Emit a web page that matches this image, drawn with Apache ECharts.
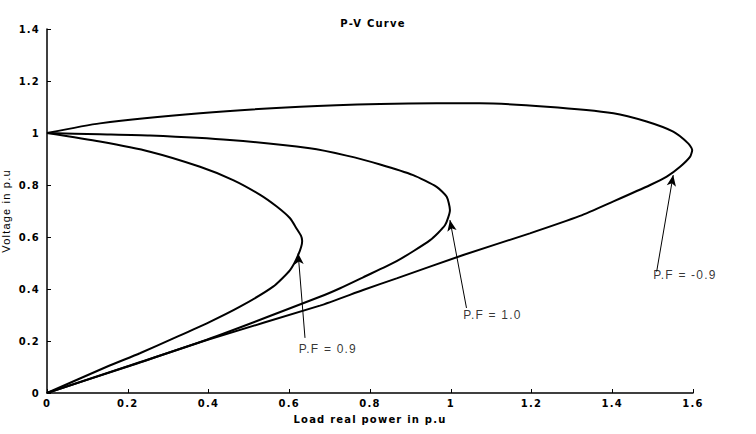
<!DOCTYPE html>
<html>
<head>
<meta charset="utf-8">
<script src="https://cdn.jsdelivr.net/npm/echarts@6/dist/echarts.min.js"></script>
<style>
    html, body { margin: 0; padding: 0; background: #fff; }
    #main { width: 756px; height: 434px; }
    /* the original plot uses wide letter spacing */
    #main text { letter-spacing: 1.2px; }
</style>
</head>
<body>
<div id="main"></div>
<script>
// tick values
const xTicks = [0, 0.2, 0.4, 0.6, 0.8, 1, 1.2, 1.4, 1.6];
const yTicks = [0, 0.2, 0.4, 0.6, 0.8, 1, 1.2, 1.4];

// P.F = 0.9 (lagging)
const lagP = [0, 0.131, 0.255, 0.379, 0.461, 0.528, 0.569, 0.602, 0.618, 0.629, 0.632, 0.622, 0.602, 0.560, 0.478, 0.396, 0.313, 0.230, 0.148, 0];
const lagV = [1, 0.967, 0.928, 0.870, 0.819, 0.762, 0.717, 0.672, 0.633, 0.605, 0.585, 0.530, 0.473, 0.409, 0.332, 0.268, 0.210, 0.153, 0.101, 0];

// P.F = 1.0
const unityP = [0, 0.131, 0.255, 0.453, 0.651, 0.742, 0.825, 0.907, 0.965, 0.990, 0.998, 0.986, 0.949, 0.866, 0.783, 0.726, 0.676, 0.396, 0.2, 0];
const unityV = [1, 0.995, 0.990, 0.973, 0.941, 0.913, 0.879, 0.838, 0.793, 0.755, 0.704, 0.646, 0.588, 0.507, 0.445, 0.403, 0.370, 0.205, 0.103, 0];

// P.F = -0.9 (leading)
const leadP = [0, 0.131, 0.379, 0.627, 0.825, 0.965, 1.072, 1.238, 1.403, 1.485, 1.551, 1.588, 1.598, 1.593, 1.568, 1.535, 1.494, 1.403, 1.320, 1.196, 1.031, 0.866, 0.783, 0.676, 0.396, 0.2, 0];
const leadV = [1, 1.037, 1.076, 1.101, 1.112, 1.114, 1.114, 1.101, 1.076, 1.044, 1.005, 0.960, 0.935, 0.909, 0.870, 0.832, 0.800, 0.737, 0.681, 0.614, 0.531, 0.441, 0.396, 0.336, 0.204, 0.102, 0];

// annotations
const labelText = ['P.F = 0.9', 'P.F = 1.0', 'P.F = -0.9'];
const labelAt = [[0.622, 0.169], [1.030, 0.300], [1.500, 0.454]];
const arrowFrom = [[0.639, 0.212], [1.039, 0.327], [1.510, 0.467]];
const arrowTo = [[0.622, 0.537], [0.998, 0.665], [1.551, 0.838]];

const boldFont = { fontFamily: 'DejaVu Sans', fontWeight: 'bold', fontSize: 10, color: '#000' };

function curve(name, ps, vs, k) {
    return {
        name,
        type: 'line',
        data: ps.map((p, i) => [p, vs[i]]),
        showSymbol: false,
        smooth: 0.2,
        lineStyle: { color: '#000', width: 2 },
        markLine: {
            silent: true,
            symbol: ['none', 'arrow'],
            symbolSize: [7, 11],
            label: { show: false },
            lineStyle: { color: '#000', width: 1, type: 'solid' },
            data: [[{ coord: arrowFrom[k] }, { coord: arrowTo[k] }]]
        }
    };
}

const chart = echarts.init(document.getElementById('main'), null, { renderer: 'svg' });
chart.setOption({
    animation: false,
    backgroundColor: '#fff',
    title: {
        text: 'P-V Curve',
        left: 368,
        textAlign: 'center',
        top: 13,
        textStyle: boldFont
    },
    grid: { left: 47, right: 63, top: 29, bottom: 41, outerBoundsMode: 'none' },
    xAxis: {
        type: 'value',
        min: xTicks[0],
        max: xTicks[xTicks.length - 1],
        interval: xTicks[1] - xTicks[0],
        name: 'Load real power in p.u',
        nameLocation: 'middle',
        nameGap: 21,
        nameTextStyle: boldFont,
        axisLine: { lineStyle: { color: '#000', width: 1.5 } },
        axisTick: { inside: true, length: 4, lineStyle: { color: '#000' } },
        axisLabel: Object.assign({ margin: 5 }, boldFont),
        splitLine: { show: false }
    },
    yAxis: {
        type: 'value',
        min: yTicks[0],
        max: yTicks[yTicks.length - 1],
        interval: yTicks[1] - yTicks[0],
        name: 'Voltage in p.u',
        nameLocation: 'middle',
        nameGap: 35,
        nameTextStyle: { fontFamily: 'Liberation Sans', fontSize: 11, color: '#000' },
        axisLine: { show: true, lineStyle: { color: '#000', width: 1.5 } },
        axisTick: { show: true, inside: true, length: 4, lineStyle: { color: '#000' } },
        axisLabel: Object.assign({ margin: 7 }, boldFont),
        splitLine: { show: false }
    },
    series: [
        curve('P.F = 0.9', lagP, lagV, 0),
        curve('P.F = 1.0', unityP, unityV, 1),
        curve('P.F = -0.9', leadP, leadV, 2),
        {
            type: 'scatter',
            silent: true,
            symbolSize: 1,
            itemStyle: { color: 'rgba(0,0,0,0)' },
            data: labelAt.map((c, i) => [c[0], c[1], labelText[i]]),
            label: {
                show: true,
                position: 'right',
                distance: 0,
                formatter: (p) => p.value[2],
                fontFamily: 'Liberation Sans',
                fontSize: 12,
                color: '#000'
            }
        }
    ]
});
</script>
</body>
</html>
